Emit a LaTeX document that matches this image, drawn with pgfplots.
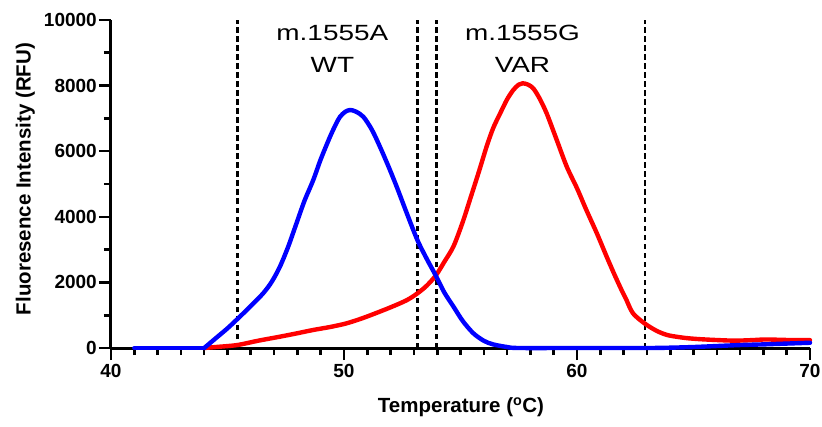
\documentclass[border=0pt]{standalone}
\usepackage{fontspec}
\setmainfont{Liberation Sans}
\usepackage{graphicx}
\usepackage{pgfplots}
\pgfplotsset{compat=1.18}

\begin{document}
\begin{tikzpicture}
\begin{axis}[
  scale only axis, width=699pt, height=328pt,
  at={(0,0)}, anchor=south west,
  xmin=40, xmax=70, ymin=0, ymax=10000,
  axis x line*=bottom, axis y line*=left,
  every inner x axis line/.append style={-},
  every inner y axis line/.append style={-},
  every outer x axis line/.append style={-},
  every outer y axis line/.append style={-},
  axis line style={line width=3pt, black},
  xtick={40,50,60,70}, minor x tick num=9,
  ytick={0,2000,4000,6000,8000,10000}, minor y tick num=1,
  xtick align=outside, ytick align=outside,
  major tick length=12pt, minor tick length=7pt,
  major tick style={black, line width=2.6pt},
  minor tick style={black, line width=2.6pt},
  tick label style={font=\fontsize{19}{19}\selectfont\bfseries},
  xticklabel style={inner sep=4pt},
  yticklabel style={inner sep=2pt},
  /pgf/number format/assume math mode=true,
  /pgf/number format/1000 sep={},
  scaled y ticks=false,
  xlabel={Temperature (\textsuperscript{o}C)},
  ylabel={Fluoresence Intensity (RFU)},
  label style={font=\fontsize{20.5}{20.5}\selectfont\bfseries},
  xlabel style={at={(axis description cs:0.5007,-0.198)}, anchor=base},
  ylabel style={at={(axis description cs:-0.115,0.515)}, anchor=base},
  clip=false,
]
% dashed boundaries
\addplot[black, line width=2.6pt, dash pattern=on 5.5pt off 3.5pt] coordinates {(45.42,0) (45.42,10000)};
\addplot[black, line width=2.6pt, dash pattern=on 5.5pt off 3.5pt] coordinates {(53.15,0) (53.15,10000)};
\addplot[black, line width=2.6pt, dash pattern=on 5.5pt off 3.5pt] coordinates {(53.97,0) (53.97,10000)};
\addplot[black, line width=2.6pt, dash pattern=on 5.5pt off 3.5pt] coordinates {(62.92,0) (62.92,10000)};
% red (VAR)
\addplot[red, line width=4.4pt, line join=round, line cap=round, smooth, tension=0.5] coordinates {
(44,0) (44.5,30) (45.42,90) (46.3,220) (47.25,345) (48,450) (48.68,550) (49.4,640)
(50.1,750) (50.8,910) (51.54,1110) (52.1,1270) (52.7,1460) (53.15,1665)
(53.55,1900) (53.95,2220) (54.3,2620) (54.7,3100) (55.1,3850) (55.4,4510) (55.8,5400)
(56.12,6140) (56.4,6700) (56.7,7150) (57.0,7580) (57.27,7870) (57.5,8030) (57.67,8070)
(57.9,8030) (58.13,7910) (58.4,7600) (58.7,7150) (59.1,6400) (59.56,5530) (60.0,4870)
(60.4,4210) (60.85,3500) (61.27,2790) (61.6,2250) (61.91,1770) (62.1,1500) (62.4,1060)
(62.9,750) (63.4,530) (63.85,400) (64.3,340) (64.8,295) (65.5,260) (66.7,225)
(67.5,240) (68.1,260) (69,245) (70,240)};
% blue (WT)
\addplot[blue, line width=4.4pt, line cap=round] coordinates {(41,0) (44,0)};
\addplot[blue, line width=4.4pt, line join=round, line cap=round, smooth, tension=0.5] coordinates {
(44,0) (44.5,300) (45,600) (45.42,880) (46,1280) (46.53,1667)
(46.9,2020) (47.25,2480) (47.6,3080) (47.96,3800) (48.3,4480) (48.68,5120) (49.0,5750)
(49.4,6440) (49.65,6820) (49.83,7050) (50.05,7200) (50.26,7256) (50.5,7210) (50.83,7050)
(51.2,6650) (51.54,6140) (51.9,5550) (52.26,4920) (52.7,4100) (53.15,3290) (53.55,2720)
(53.95,2195) (54.3,1700) (54.7,1260) (55.1,820) (55.55,450) (56.0,220) (56.4,110)
(57.0,30) (57.5,0) (60,0) (63,0) (64,10) (65,30) (66,60) (67,90) (68,110) (69,135) (70,160)};
% annotations
\node[font=\fontsize{22}{22}\selectfont, anchor=base, inner sep=0pt] at (axis cs:49.5,9369) {\scalebox{1.27}[1]{m.1555A}};
\node[font=\fontsize{22}{22}\selectfont, anchor=base, inner sep=0pt] at (axis cs:49.5,8393) {\scalebox{1.27}[1]{WT}};
\node[font=\fontsize{22}{22}\selectfont, anchor=base, inner sep=0pt] at (axis cs:57.66,9369) {\scalebox{1.27}[1]{m.1555G}};
\node[font=\fontsize{22}{22}\selectfont, anchor=base, inner sep=0pt] at (axis cs:57.66,8393) {\scalebox{1.27}[1]{VAR}};
\end{axis}
\pgfresetboundingbox
\path (-111pt,-78pt) rectangle (711pt,348pt);
\end{tikzpicture}
\end{document}
